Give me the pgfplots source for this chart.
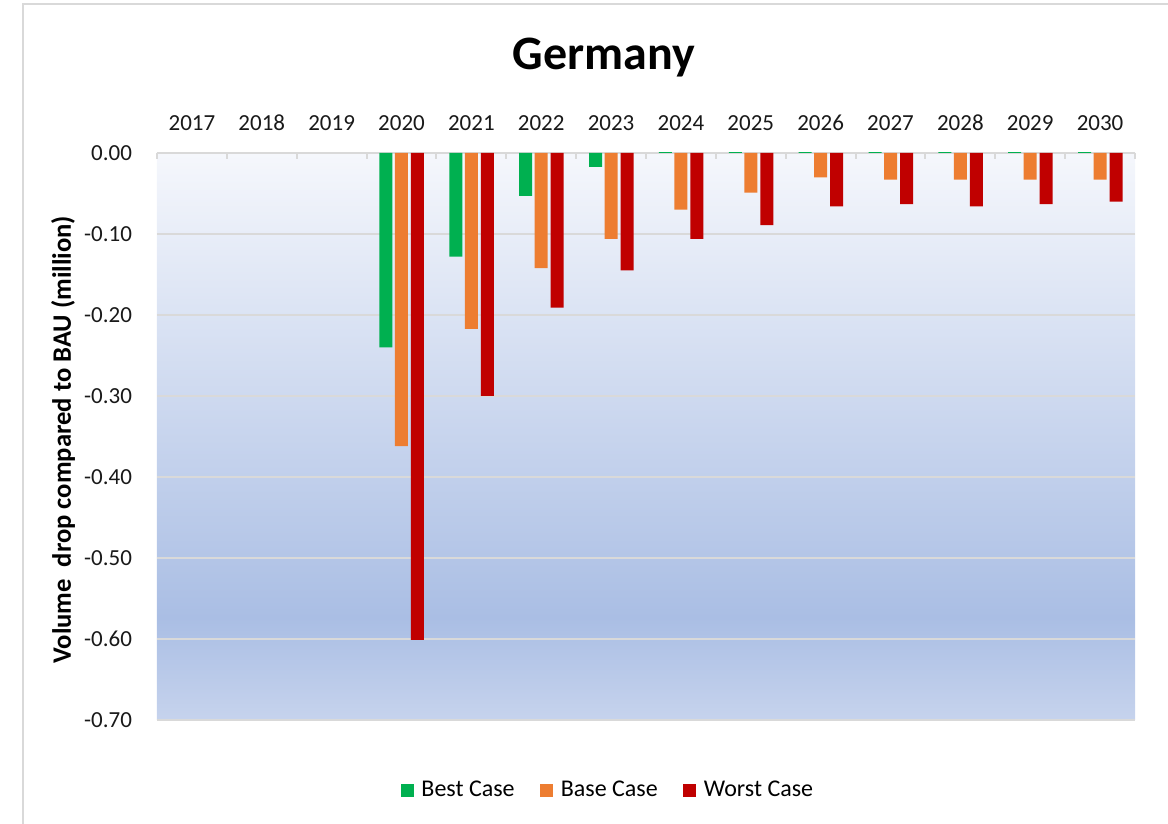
\documentclass[border=0pt]{standalone}
\usepackage{pgfplots}
\pgfplotsset{compat=1.18}
\usepackage{fontspec}
\setmainfont{Carlito}
\definecolor{bestc}{HTML}{00B050}
\definecolor{basec}{HTML}{ED7D31}
\definecolor{worstc}{HTML}{C00000}
\definecolor{gridc}{HTML}{D9D9D9}
\definecolor{bgtop}{HTML}{F5F7FC}
\definecolor{bgdark}{HTML}{AABEE4}
\definecolor{bgbot}{HTML}{C6D3ED}
\pgfdeclareverticalshading{bgshade}{100bp}{color(0bp)=(bgbot); color(25bp)=(bgbot); color(34bp)=(bgdark); color(75bp)=(bgtop); color(100bp)=(bgtop)}
\begin{document}
\begin{tikzpicture}
\useasboundingbox (-78.5pt,-52pt) rectangle (505.5pt,360pt);
\draw[gridc, line width=1pt] (-67pt,-70pt) -- (-67pt,358pt) -- (520pt,358pt);
\begin{axis}[
  at={(0,0)}, anchor=south west,
  scale only axis, width=489pt, height=283.5pt,
  ybar,
  bar width=6.5pt,
  xmin=-0.5, xmax=13.5,
  ymin=-0.7, ymax=0,
  xtick={0,...,13},
  xticklabels={2017,2018,2019,2020,2021,2022,2023,2024,2025,2026,2027,2028,2029,2030},
  xticklabel pos=upper,
  xtick pos=upper,
  major x tick style={draw=none},
  minor xtick={-0.5,0.5,...,13.5},
  minor tick length=3pt,
  tick align=inside,
  minor x tick style={gridc, line width=1pt},
  ytick={-0.7,-0.6,-0.5,-0.4,-0.3,-0.2,-0.1,0},
  major y tick style={draw=none},
  ymajorgrids,
  grid style={gridc, line width=1pt},
  axis line style={draw=none},
  axis background/.style={shading=bgshade},
  yticklabel style={/pgf/number format/fixed, /pgf/number format/fixed zerofill, /pgf/number format/precision=2, xshift=-9pt},
  /pgf/number format/assume math mode=true,
  ticklabel style={font=\fontsize{11.5}{13}\selectfont, text=black!90},
  xticklabel style={yshift=7.5pt},
  ylabel style={at={(axis description cs:-0.0961,0.494)}, rotate=0, anchor=center, font=\fontsize{13.3}{15}\selectfont\bfseries},
  ylabel={Volume\ \ drop compared to BAU (million)},
  legend columns=3,
  legend style={at={(axis description cs:0.464,-0.1235)}, anchor=center, draw=none, fill=none, font=\fontsize{12}{14}\selectfont, /tikz/every even column/.append style={column sep=9pt}, nodes={inner xsep=3.8pt}},
  legend image code/.code={\fill[#1] (0pt,-3.25pt) rectangle (6.5pt,3.25pt);},
]
\addplot[fill=bestc, draw=none, bar shift=-7.75pt] coordinates {
(3,-0.240) (4,-0.128) (5,-0.053) (6,-0.017) (7,0.002) (8,0.002) (9,0.002) (10,0.002) (11,0.002) (12,0.002) (13,0.002)};
\addplot[fill=basec, draw=none, bar shift=0pt] coordinates {
(3,-0.362) (4,-0.217) (5,-0.142) (6,-0.106) (7,-0.070) (8,-0.049) (9,-0.030) (10,-0.033) (11,-0.033) (12,-0.033) (13,-0.033)};
\addplot[fill=worstc, draw=none, bar shift=8pt] coordinates {
(3,-0.601) (4,-0.300) (5,-0.191) (6,-0.145) (7,-0.106) (8,-0.089) (9,-0.066) (10,-0.063) (11,-0.066) (12,-0.063) (13,-0.060)};
\legend{Best Case, Base Case, Worst Case}
\end{axis}
\node[anchor=base, font=\fontsize{24}{28}\selectfont\bfseries] at (223.5pt,325pt) {Germany};
\end{tikzpicture}
\end{document}
